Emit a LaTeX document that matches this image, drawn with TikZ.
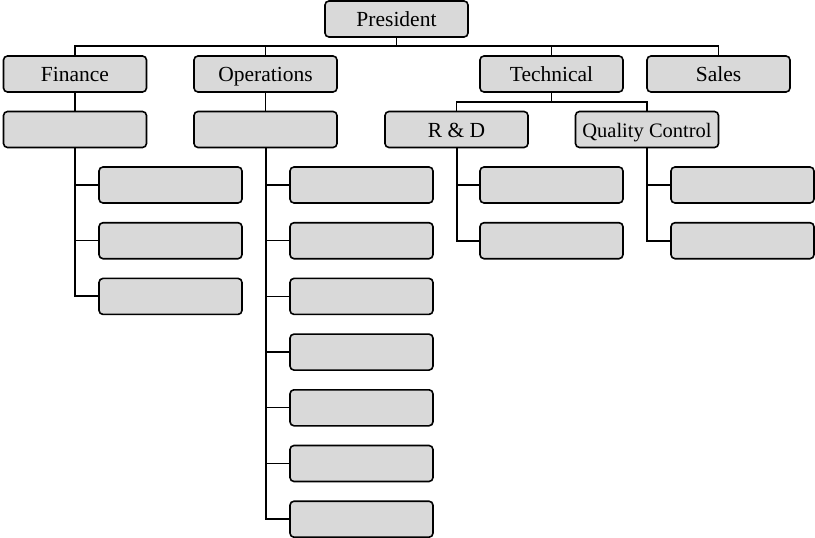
\documentclass[tikz,border=0pt]{standalone}
\usepackage{fontspec}
\setmainfont{Liberation Serif}
\definecolor{boxgray}{HTML}{D9D9D9}
\begin{document}
\begin{tikzpicture}[x=1pt,y=-1pt,
  box/.style={draw=black,line width=1.6pt,fill=boxgray,rounded corners=4pt,
    minimum width=143pt,minimum height=36pt,inner sep=0pt,
    text height=16pt,text depth=1pt,
    font=\fontsize{21.5}{26}\selectfont},
  link/.style={line width=1.3pt},
  trunk/.style={line width=2pt}]
\useasboundingbox (0,0) rectangle (815,538);
% level 0
\node[box] (pres) at (396.5,19) {President};
% level 1
\node[box] (fin) at (75,74) {Finance};
\node[box] (ops) at (265.5,74) {Operations};
\node[box] (tech) at (551.5,74) {Technical};
\node[box] (sales) at (718.5,74) {Sales};
% level 2
\node[box] (fsub) at (75,129.5) {};
\node[box] (osub) at (265.5,129.5) {};
\node[box] (rd) at (456.5,129.5) {R \& D};
\node[box,font=\fontsize{20.5}{24}\selectfont] (qc) at (647,129.5) {Quality Control};
% children
\foreach \i in {1,2,3} {
  \node[box] (f\i) at (170.5,{185+55.7*(\i-1)}) {};
}
\foreach \i in {1,...,7} {
  \node[box] (o\i) at (361.5,{185+55.7*(\i-1)}) {};
}
\foreach \i in {1,2} {
  \node[box] (r\i) at (551.5,{185+55.7*(\i-1)}) {};
  \node[box] (q\i) at (742.5,{185+55.7*(\i-1)}) {};
}
% top bus
\coordinate (bus) at (396.5,46);
\draw[link] (fin.north) -- (fin.north|-bus) -- (sales.north|-bus) -- (sales.north);
\draw[link] (pres.south) -- (bus);
\draw[link] (ops.north) -- (ops.north|-bus);
\draw[link] (tech.north) -- (tech.north|-bus);
% technical bus
\coordinate (tbus) at (551.5,102);
\draw[link] (rd.north) -- (rd.north|-tbus) -- (qc.north|-tbus) -- (qc.north);
\draw[link] (tech.south) -- (tbus);
% level1 to level2
\draw[link] (fin.south) -- (fsub.north);
\draw[link] (ops.south) -- (osub.north);
% trunks
\draw[trunk] (fsub.south) -- (fsub.south|-f3.west) -- (f3.west);
\draw[trunk] (osub.south) -- (osub.south|-o7.west) -- (o7.west);
\draw[trunk] (rd.south) -- (rd.south|-r2.west) -- (r2.west);
\draw[trunk] (qc.south) -- (qc.south|-q2.west) -- (q2.west);
\foreach \i in {1,2} \draw[link] (fsub.south|-f\i.west) -- (f\i.west);
\foreach \i in {1,...,6} \draw[link] (osub.south|-o\i.west) -- (o\i.west);
\draw[link] (rd.south|-r1.west) -- (r1.west);
\draw[link] (qc.south|-q1.west) -- (q1.west);
\end{tikzpicture}
\end{document}
